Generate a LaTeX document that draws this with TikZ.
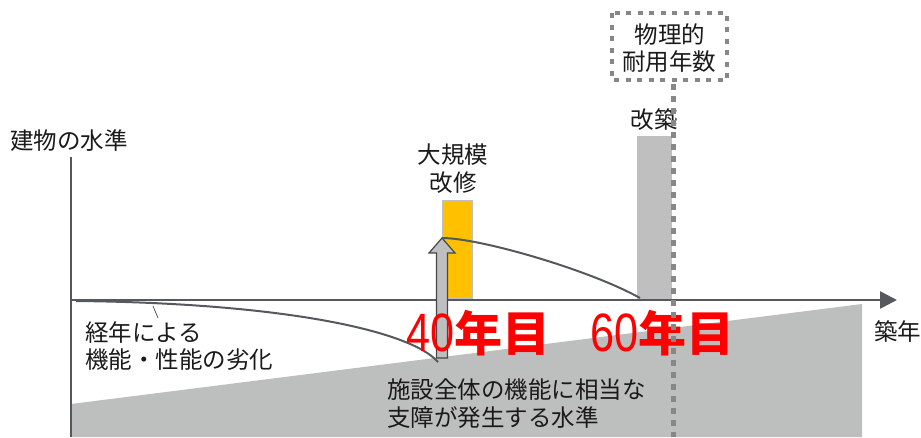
\documentclass[tikz,border=0pt]{standalone}
\usepackage{graphicx}
\usepackage{fontspec}
\setmainfont{Noto Sans CJK JP}
\newfontfamily\digitfont{Liberation Sans}
\usetikzlibrary{arrows.meta}
\definecolor{axisgray}{HTML}{55595D}
\definecolor{fillgray}{HTML}{BDBEBE}
\definecolor{bargray}{HTML}{BFBFBF}
\definecolor{dotgray}{HTML}{878787}
\definecolor{orangebar}{HTML}{FFC000}
\definecolor{txt}{HTML}{1A1A1A}
\tikzset{
  lbl/.style={inner sep=0pt, text=txt, font=\fontsize{23.5}{28}\selectfont},
  curve/.style={draw=axisgray, line width=2pt},
  dotline/.style={draw=dotgray, line width=5pt, dash pattern=on 6pt off 6pt},
  bignum/.style={inner sep=0pt, text=red, anchor=west}
}
\newcommand{\redyear}[1]{{\digitfont\fontsize{54}{54}\selectfont\scalebox{0.8}[1]{#1}}{\fontsize{48}{48}\selectfont\bfseries 年目}}
\begin{document}
\begin{tikzpicture}[x=1pt,y=-1pt]
\useasboundingbox (0,0) rectangle (921,437);
% lower gray area
\fill[fillgray] (71,404) -- (862,304) -- (862,437) -- (71,437) -- cycle;
% building bar
\fill[bargray] (637,136) rectangle (672,300);
% orange bar
\filldraw[fill=orangebar, draw=bargray, line width=1.2pt] (443,201) rectangle (472,298);
% axes
\coordinate (O) at (71,300);
\coordinate (ytop) at (71,157);
\coordinate (ybot) at (71,437);
\coordinate (xend) at (897,300);
\draw[axisgray, line width=2.6pt] (ytop) -- (ybot);
\draw[axisgray, line width=2.6pt, -{Triangle[length=17pt,width=17pt]}] (O) -- (xend);
% degradation curve
\coordinate (d0) at (76,301);
\coordinate (d1) at (438,362);
\draw[curve] (d0) .. controls (280,303) and (410,330) .. (d1);
\coordinate (l0) at (153,306);
\coordinate (l1) at (158,318);
\draw[axisgray, line width=0.8pt] (l0) -- (l1);
% recovery curve
\coordinate (r0) at (442,238);
\coordinate (r1) at (640,298);
% up arrow
\filldraw[fill=bargray, draw=axisgray!80!black, line width=1.2pt]
  (436.5,358) -- (436.5,253) -- (429,253) -- (r0) -- (455,253) -- (447.5,253) -- (447.5,358) -- cycle;
\draw[curve] (r0) .. controls (480,238) and (590,270) .. (r1);
% labels
\node[lbl, anchor=west] (ylab) at (10,141) {建物の水準};
\node[lbl, anchor=west] (deg1) at (85,333) {経年による};
\node[lbl, anchor=west] (deg2) at (85,360) {機能・性能の劣化};
\node[lbl] (big1) at (453,155) {大規模};
\node[lbl] (big2) at (453,183) {改修};
\node[lbl] (kai) at (654,120) {改築};
\node[lbl] (phys1) at (670,35) {物理的};
\node[lbl] (phys2) at (669,62) {耐用年数};
\node[lbl, anchor=west] (low1) at (387,390) {施設全体の機能に相当な};
\node[lbl, anchor=west] (low2) at (387,418) {支障が発生する水準};
\node[lbl, anchor=west] (xlab) at (874,332) {築年};
\node[bignum] (y40) at (406,333) {\redyear{40}};
\node[bignum] (y60) at (590,333) {\redyear{60}};
% dotted box and line
\draw[dotline, line width=4.5pt, dash pattern=on 5pt off 6.5pt] (612,13) rectangle (727,80);
\coordinate (v0) at (673,84);
\coordinate (v1) at (673,437);
\draw[dotline] (v0) -- (v1);
\end{tikzpicture}
\end{document}
